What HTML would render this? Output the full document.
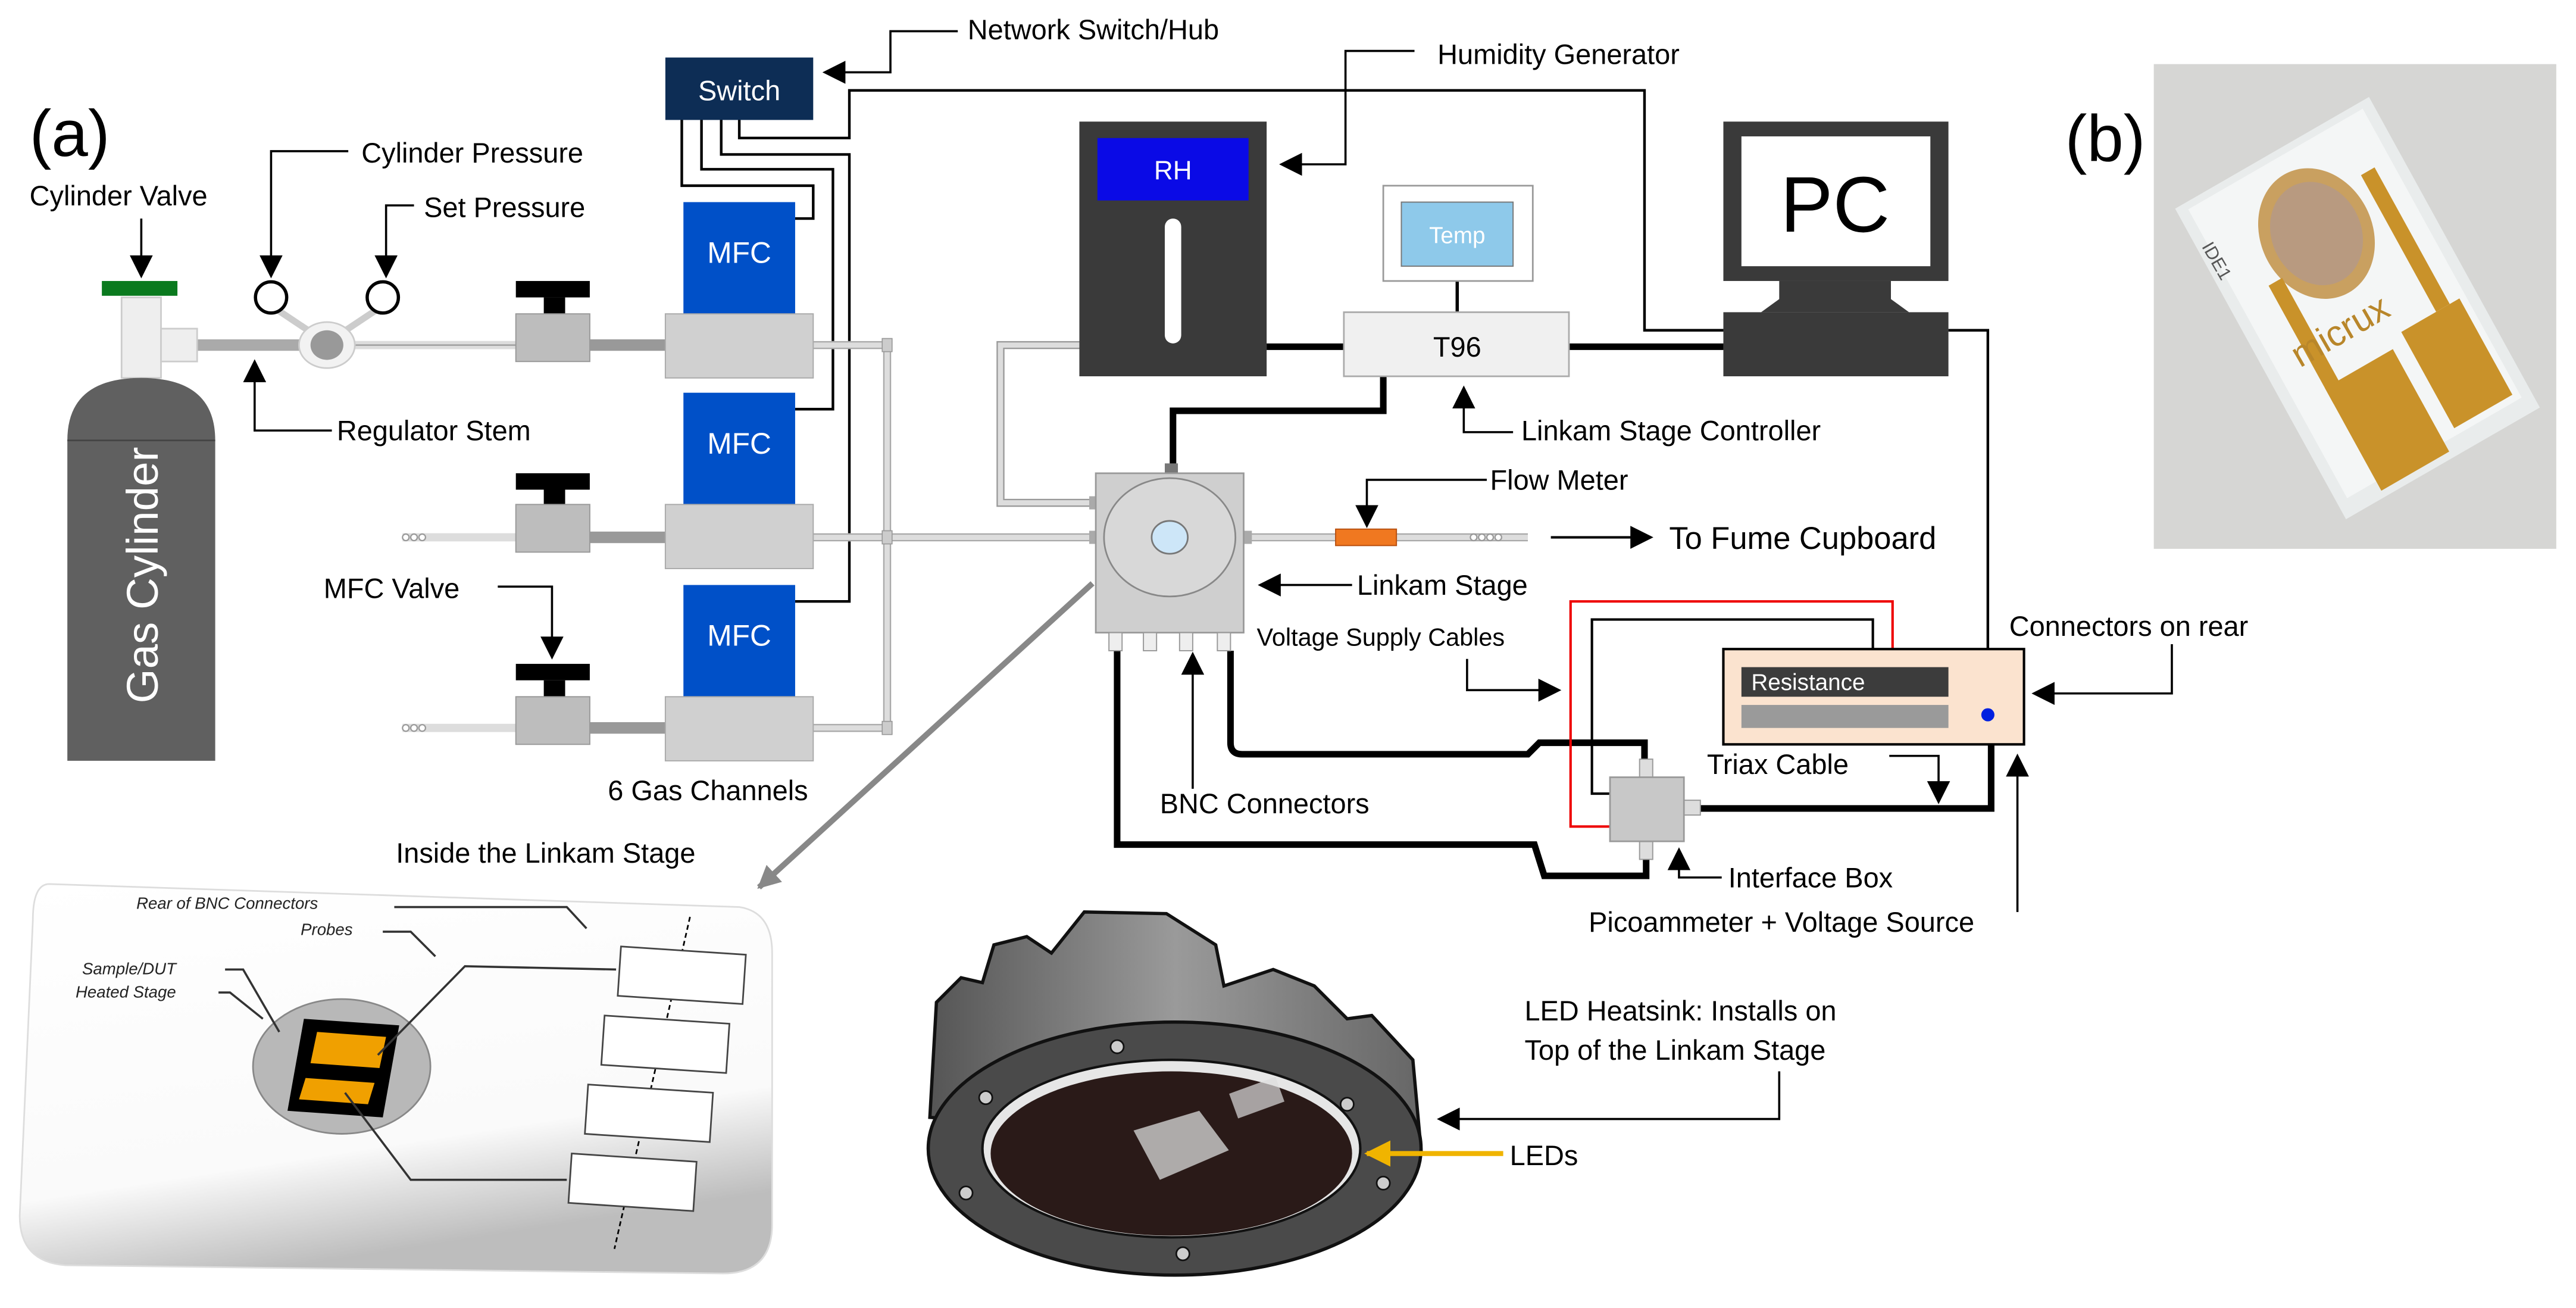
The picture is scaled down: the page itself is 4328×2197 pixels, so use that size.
<!DOCTYPE html>
<html><head><meta charset="utf-8"><style>
html,body{margin:0;padding:0;background:#fff;}
svg{display:block;}
text{font-family:"Liberation Sans",sans-serif;}
</style></head><body>
<svg width="4328" height="2197" viewBox="0 0 1568 796" preserveAspectRatio="none" xmlns="http://www.w3.org/2000/svg">
<defs>
<marker id="ar" viewBox="0 0 10 10" refX="9" refY="5" markerWidth="5" markerHeight="5" orient="auto-start-reverse" markerUnits="userSpaceOnUse"><path d="M0,0L10,5L0,10z" fill="#000"/></marker>
<marker id="a2" viewBox="0 0 10 10" refX="9" refY="5" markerWidth="14" markerHeight="14" orient="auto" markerUnits="userSpaceOnUse"><path d="M0,0L10,5L0,10z" fill="#000"/></marker>
<marker id="ag" viewBox="0 0 10 10" refX="9" refY="5" markerWidth="14" markerHeight="14" orient="auto" markerUnits="userSpaceOnUse"><path d="M0,0L10,5L0,10z" fill="#888"/></marker>
<marker id="ay" viewBox="0 0 10 10" refX="9" refY="5" markerWidth="16" markerHeight="16" orient="auto" markerUnits="userSpaceOnUse"><path d="M0,0L10,5L0,10z" fill="#f0b400"/></marker>
<linearGradient id="card" x1="0" y1="0" x2="0.3" y2="1"><stop offset="0" stop-color="#fff"/><stop offset="0.75" stop-color="#fafafa"/><stop offset="1" stop-color="#bdbdbd"/></linearGradient>
<linearGradient id="hs" x1="0" y1="0" x2="1" y2="0"><stop offset="0" stop-color="#555"/><stop offset="0.5" stop-color="#9a9a9a"/><stop offset="1" stop-color="#666"/></linearGradient>
</defs>

<!-- (a) -->
<text x="18" y="95" font-size="40">(a)</text>
<text x="1257" y="98" font-size="40">(b)</text>

<!-- network wires from switch -->
<g fill="none" stroke="#000" stroke-width="1.6">
<path d="M415,73V113H495V133H484"/>
<path d="M427,73V103H507V249H484"/>
<path d="M439,73V94H517V366H484"/>
<path d="M450,73V84H517V55H1001V201H1049"/>
<path d="M1186,201H1210V395"/>
</g>
<!-- switch -->
<rect x="405" y="35" width="90" height="38" fill="#0d2d55"/>
<text x="450" y="61" font-size="17" fill="#fff" text-anchor="middle">Switch</text>
<text x="589" y="24" font-size="17">Network Switch/Hub</text>
<path d="M583,19H542V44H502" fill="none" stroke="#000" stroke-width="1.3" marker-end="url(#a2)"/>

<!-- pipes -->
<g stroke-linecap="butt">
<path d="M120,210H200" stroke="#aaa" stroke-width="7"/>
<path d="M200,210H320" stroke="#ddd" stroke-width="5"/>
<path d="M200,210H320" stroke="#999" stroke-width="0.8" fill="none"/>
<path d="M245,327H320M245,443H320" stroke="#ddd" stroke-width="5"/>
<path d="M359,210H405M359,327H405M359,443H405" stroke="#999" stroke-width="7"/>
<path d="M495,210H540M495,327H665M495,443H540M540,210V443" stroke="#ddd" stroke-width="5"/>
<path d="M495,208H540M495,212H540M495,325H665M495,329H665M495,441H540M495,445H540M538,210V443M542,210V443" stroke="#aaa" stroke-width="0.8"/>
<path d="M757,327H813M850,327H930" stroke="#ddd" stroke-width="5"/>
<path d="M757,325H813M757,329H813M850,325H930M850,329H930" stroke="#aaa" stroke-width="0.8"/>
<path d="M657,210H609V306H667" fill="none" stroke="#ddd" stroke-width="5"/>
<path d="M657,208H607V308H667M657,212H611V304H667" fill="none" stroke="#999" stroke-width="0.8"/>
</g>
<g fill="#fff" stroke="#999" stroke-width="0.8">
<circle cx="247" cy="327" r="2"/><circle cx="252" cy="327" r="2"/><circle cx="257" cy="327" r="2"/>
<circle cx="247" cy="443" r="2"/><circle cx="252" cy="443" r="2"/><circle cx="257" cy="443" r="2"/>
<circle cx="897" cy="327" r="2"/><circle cx="902" cy="327" r="2"/><circle cx="907" cy="327" r="2"/><circle cx="912" cy="327" r="2"/>
</g>
<rect x="537" y="206" width="6" height="8" fill="#ccc" stroke="#999" stroke-width="0.6"/>
<rect x="537" y="323" width="6" height="8" fill="#ccc" stroke="#999" stroke-width="0.6"/>
<rect x="537" y="439" width="6" height="8" fill="#ccc" stroke="#999" stroke-width="0.6"/>

<!-- cylinder -->
<rect x="74" y="181" width="24" height="49" fill="#eee" stroke="#ccc"/>
<rect x="98" y="200" width="22" height="20" fill="#eee" stroke="#ccc"/>
<rect x="62" y="171" width="46" height="9" fill="#0a7a1e"/>
<path d="M41,268Q41,230 86,230Q131,230 131,268V463H41Z" fill="#606060"/>
<line x1="41" y1="268" x2="131" y2="268" stroke="#444" stroke-width="1"/>
<text transform="translate(96,350) rotate(-90)" font-size="27" fill="#fff" text-anchor="middle">Gas Cylinder</text>
<!-- regulator -->
<path d="M168,188L195,206M230,188L203,206" stroke="#ccc" stroke-width="4"/>
<ellipse cx="199" cy="210" rx="17" ry="14" fill="#f2f2f2" stroke="#ccc"/>
<ellipse cx="199" cy="210" rx="10" ry="9" fill="#999"/>
<circle cx="165" cy="181" r="9.5" fill="#fff" stroke="#000" stroke-width="2"/>
<circle cx="233" cy="181" r="9.5" fill="#fff" stroke="#000" stroke-width="2"/>
<text x="220" y="99" font-size="17">Cylinder Pressure</text>
<text x="258" y="132" font-size="17">Set Pressure</text>
<text x="18" y="125" font-size="17">Cylinder Valve</text>
<text x="205" y="268" font-size="17">Regulator Stem</text>
<text x="197" y="364" font-size="17">MFC Valve</text>
<text x="370" y="487" font-size="17">6 Gas Channels</text>
<g fill="none" stroke="#000" stroke-width="1.3" marker-end="url(#a2)">
<path d="M212,92H165V168"/>
<path d="M252,125H235V168"/>
<path d="M86,133V168"/>
<path d="M202,262H155V220"/>
<path d="M303,357H336V400"/>
</g>

<!-- valves -->
<g>
<rect x="314" y="171" width="45" height="10" fill="#000"/><rect x="331" y="181" width="13" height="11" fill="#000"/>
<rect x="314" y="191" width="45" height="29" fill="#bdbdbd" stroke="#999" stroke-width="0.7"/>
<rect x="314" y="288" width="45" height="10" fill="#000"/><rect x="331" y="298" width="13" height="10" fill="#000"/>
<rect x="314" y="307" width="45" height="29" fill="#bdbdbd" stroke="#999" stroke-width="0.7"/>
<rect x="314" y="404" width="45" height="10" fill="#000"/><rect x="331" y="414" width="13" height="10" fill="#000"/>
<rect x="314" y="424" width="45" height="29" fill="#bdbdbd" stroke="#999" stroke-width="0.7"/>
</g>
<!-- MFCs -->
<g>
<rect x="416" y="123" width="68" height="68" fill="#0050c8"/>
<rect x="405" y="191" width="90" height="39" fill="#d0d0d0" stroke="#aaa" stroke-width="0.7"/>
<rect x="416" y="239" width="68" height="68" fill="#0050c8"/>
<rect x="405" y="307" width="90" height="39" fill="#d0d0d0" stroke="#aaa" stroke-width="0.7"/>
<rect x="416" y="356" width="68" height="68" fill="#0050c8"/>
<rect x="405" y="424" width="90" height="39" fill="#d0d0d0" stroke="#aaa" stroke-width="0.7"/>
</g>
<g font-size="18" fill="#fff" text-anchor="middle">
<text x="450" y="160">MFC</text><text x="450" y="276">MFC</text><text x="450" y="393">MFC</text>
</g>

<!-- humidity generator -->
<rect x="657" y="74" width="114" height="155" fill="#3a3a3a"/>
<rect x="668" y="84" width="92" height="38" fill="#0a0ae6"/>
<text x="714" y="109" font-size="16" fill="#fff" text-anchor="middle">RH</text>
<rect x="709" y="133" width="10" height="76" rx="5" fill="#fff"/>
<text x="875" y="39" font-size="17">Humidity Generator</text>
<path d="M861,31H819V100H780" fill="none" stroke="#000" stroke-width="1.3" marker-end="url(#a2)"/>

<!-- thick cables -->
<g fill="none" stroke="#000" stroke-width="4">
<path d="M771,211H818M955,211H1049"/>
<path d="M714,286V250H842V229"/>
<path d="M680,396V514H934L940,533H1002V523"/>
<path d="M749,396V452Q749,459 756,459H930L937,452H1001V462"/>
<path d="M1025,492H1212V453"/>
</g>
<!-- temp monitor & T96 -->
<line x1="887" y1="171" x2="887" y2="190" stroke="#000" stroke-width="2"/>
<rect x="842" y="113" width="91" height="58" fill="#fff" stroke="#999"/>
<rect x="853" y="123" width="68" height="39" fill="#8ec9ea" stroke="#777" stroke-width="0.7"/>
<text x="887" y="148" font-size="14" fill="#fff" text-anchor="middle">Temp</text>
<rect x="818" y="190" width="137" height="39" fill="#f0f0f0" stroke="#aaa"/>
<text x="887" y="217" font-size="17" text-anchor="middle">T96</text>
<text x="926" y="268" font-size="17">Linkam Stage Controller</text>
<path d="M921,263H891V236" fill="none" stroke="#000" stroke-width="1.3" marker-end="url(#a2)"/>

<!-- PC -->
<rect x="1049" y="74" width="137" height="97" fill="#3a3a3a"/>
<rect x="1060" y="83" width="115" height="79" fill="#fff"/>
<text x="1117" y="141" font-size="48" text-anchor="middle">PC</text>
<path d="M1083,171H1151V182L1162,190H1072L1083,182Z" fill="#3a3a3a"/>
<rect x="1049" y="190" width="137" height="39" fill="#3a3a3a"/>

<!-- Linkam stage -->
<rect x="709" y="282" width="8" height="6" fill="#777"/>
<rect x="663" y="302" width="5" height="8" fill="#aaa"/><rect x="663" y="323" width="5" height="8" fill="#aaa"/>
<rect x="757" y="323" width="5" height="8" fill="#aaa"/>
<rect x="667" y="288" width="90" height="97" fill="#cfcfcf" stroke="#999"/>
<ellipse cx="712" cy="327" rx="40" ry="36" fill="#d8d8d8" stroke="#888"/>
<ellipse cx="712" cy="327" rx="11" ry="10" fill="#cde6f8" stroke="#777"/>
<g fill="#eee" stroke="#999" stroke-width="0.7">
<rect x="675" y="385" width="8" height="11"/><rect x="696" y="385" width="8" height="11"/><rect x="718" y="385" width="8" height="11"/><rect x="741" y="385" width="8" height="11"/>
</g>
<line x1="665" y1="355" x2="462" y2="540" stroke="#888" stroke-width="3.5" marker-end="url(#ag)"/>
<!-- flow meter -->
<rect x="813" y="322" width="37" height="10" fill="#f07820" stroke="#b85010" stroke-width="0.7"/>
<text x="907" y="298" font-size="17">Flow Meter</text>
<path d="M905,292H832V320" fill="none" stroke="#000" stroke-width="1.3" marker-end="url(#a2)"/>
<path d="M944,327H1005" stroke="#000" stroke-width="1.5" marker-end="url(#a2)"/>
<text x="1016" y="334" font-size="19">To Fume Cupboard</text>
<text x="826" y="362" font-size="17">Linkam Stage</text>
<path d="M823,356H767" stroke="#000" stroke-width="1.3" marker-end="url(#a2)"/>
<text x="765" y="393" font-size="15">Voltage Supply Cables</text>
<path d="M893,401V420H949" fill="none" stroke="#000" stroke-width="1.3" marker-end="url(#a2)"/>
<text x="706" y="495" font-size="17">BNC Connectors</text>
<path d="M726,480V398" stroke="#000" stroke-width="1.3" marker-end="url(#a2)"/>

<!-- supply wires -->
<path d="M980,503H956V366H1152V395" fill="none" stroke="#e00" stroke-width="1.5"/>
<path d="M980,483H969V377H1140V395" fill="none" stroke="#000" stroke-width="1.5"/>
<!-- interface box -->
<g fill="#ddd" stroke="#999" stroke-width="0.7">
<rect x="998" y="462" width="8" height="11"/><rect x="998" y="512" width="8" height="11"/><rect x="1025" y="487" width="10" height="9"/>
</g>
<rect x="980" y="473" width="45" height="39" fill="#c8c8c8" stroke="#999"/>
<text x="1052" y="540" font-size="17">Interface Box</text>
<path d="M1048,534H1022V517" fill="none" stroke="#000" stroke-width="1.3" marker-end="url(#a2)"/>
<text x="967" y="567" font-size="17">Picoammeter + Voltage Source</text>
<path d="M1228,555V460" stroke="#000" stroke-width="1.3" marker-end="url(#a2)"/>
<!-- picoammeter -->
<rect x="1049" y="395" width="183" height="58" fill="#fbe3cf" stroke="#000" stroke-width="1.5"/>
<rect x="1060" y="406" width="126" height="18" fill="#3c3c3c"/>
<text x="1066" y="420" font-size="14" fill="#fff">Resistance</text>
<rect x="1060" y="429" width="126" height="14" fill="#9a9a9a"/>
<circle cx="1210" cy="435" r="4" fill="#0020e0"/>
<text x="1223" y="387" font-size="17">Connectors on rear</text>
<path d="M1322,392V422H1238" fill="none" stroke="#000" stroke-width="1.3" marker-end="url(#a2)"/>
<text x="1039" y="471" font-size="17">Triax Cable</text>
<path d="M1150,460H1180V488" fill="none" stroke="#000" stroke-width="1.3" marker-end="url(#a2)"/>

<!-- photo b -->
<rect x="1311" y="39" width="245" height="295" fill="#d6d6d4"/>
<g transform="matrix(118,-68,104,189,1324,127)">
<polygon points="0,0 1,0 1,1 0,1" fill="#e9ecec" stroke="none"/>
<polygon points="0.05,0.02 0.95,0.02 0.95,0.95 0.05,0.95" fill="#f4f6f6"/>
<ellipse cx="0.5" cy="0.26" rx="0.25" ry="0.19" fill="#c9a060"/>
<ellipse cx="0.5" cy="0.26" rx="0.2" ry="0.15" fill="#b89a80"/>
<polygon points="0.2,0.32 0.27,0.32 0.27,0.7 0.2,0.7" fill="#c9922a"/>
<polygon points="0.8,0.18 0.87,0.18 0.87,0.62 0.8,0.62" fill="#c9922a"/>
<polygon points="0.2,0.65 0.55,0.65 0.55,0.98 0.2,0.98" fill="#c9922a"/>
<polygon points="0.62,0.62 0.92,0.62 0.92,0.93 0.62,0.93" fill="#c9922a"/>
</g>
<text transform="translate(1400,224) rotate(-30)" font-size="22" fill="#b8862a">micrux</text>
<text transform="translate(1340,150) rotate(60)" font-size="11" fill="#555">IDE1</text>

<!-- inset: inside linkam stage -->
<text x="241" y="525" font-size="17">Inside the Linkam Stage</text>
<path d="M30,538Q20,538 20,560L12,740Q12,768 40,770L440,775Q470,775 470,745V580Q470,555 450,552Z" fill="url(#card)" stroke="#ddd"/>
<line x1="420" y1="558" x2="374" y2="760" stroke="#000" stroke-width="1" stroke-dasharray="3,2"/>
<g fill="#fff" stroke="#444" stroke-width="1">
<polygon points="378,576 454,581 452,611 376,606"/>
<polygon points="368,618 444,623 442,653 366,648"/>
<polygon points="358,660 434,665 432,695 356,690"/>
<polygon points="348,702 424,707 422,737 346,732"/>
</g>
<ellipse cx="208" cy="649" rx="54" ry="41" fill="#b8b8b8" stroke="#888"/>
<polygon points="185,620 243,624 233,680 175,676" fill="#000"/>
<polygon points="193,628 235,631 231,650 189,647" fill="#f0a000"/>
<polygon points="186,656 228,659 224,672 182,669" fill="#f0a000"/>
<g fill="none" stroke="#333" stroke-width="1.3">
<path d="M375,590L283,588L230,642"/>
<path d="M345,718L250,718L210,665"/>
<path d="M240,552H345L357,565"/>
<path d="M233,567H250L265,582"/>
<path d="M137,590H148L170,628"/>
<path d="M133,604H140L160,620"/>
</g>
<g font-size="10" font-style="italic" fill="#222">
<text x="83" y="553">Rear of BNC Connectors</text>
<text x="183" y="569">Probes</text>
<text x="50" y="593">Sample/DUT</text>
<text x="46" y="607">Heated Stage</text>
</g>

<!-- LED heatsink -->
<path d="M566,680L570,610L585,595L598,598L605,575L625,570L640,580L660,555L710,556L740,575L745,600L775,590L800,600L820,620L835,618L860,645L865,700Z" fill="url(#hs)" stroke="#111" stroke-width="2"/>
<ellipse cx="715" cy="699" rx="150" ry="77" fill="#4a4a4a" stroke="#111" stroke-width="2"/>
<ellipse cx="713" cy="699" rx="115" ry="54" fill="#e6e6e6" stroke="#111" stroke-width="1.5"/>
<ellipse cx="713" cy="702" rx="110" ry="50" fill="#2a1a18"/>
<polygon points="690,688 730,676 748,700 706,718" fill="#cfcfcf" opacity="0.8"/>
<rect x="750" y="660" width="30" height="16" fill="#ddd" opacity="0.7" transform="rotate(-20 765 668)"/>
<g fill="#ccc" stroke="#111"><circle cx="600" cy="668" r="4"/><circle cx="820" cy="672" r="4"/><circle cx="588" cy="726" r="4"/><circle cx="842" cy="720" r="4"/><circle cx="720" cy="763" r="4"/><circle cx="680" cy="637" r="4"/></g>
<text x="928" y="621" font-size="17">LED Heatsink: Installs on</text>
<text x="928" y="645" font-size="17">Top of the Linkam Stage</text>
<path d="M1083,652V681H876" fill="none" stroke="#000" stroke-width="1.3" marker-end="url(#a2)"/>
<text x="919" y="709" font-size="17">LEDs</text>
<path d="M915,702H832" stroke="#f0b400" stroke-width="3" marker-end="url(#ay)"/>
</svg>
</body></html>
